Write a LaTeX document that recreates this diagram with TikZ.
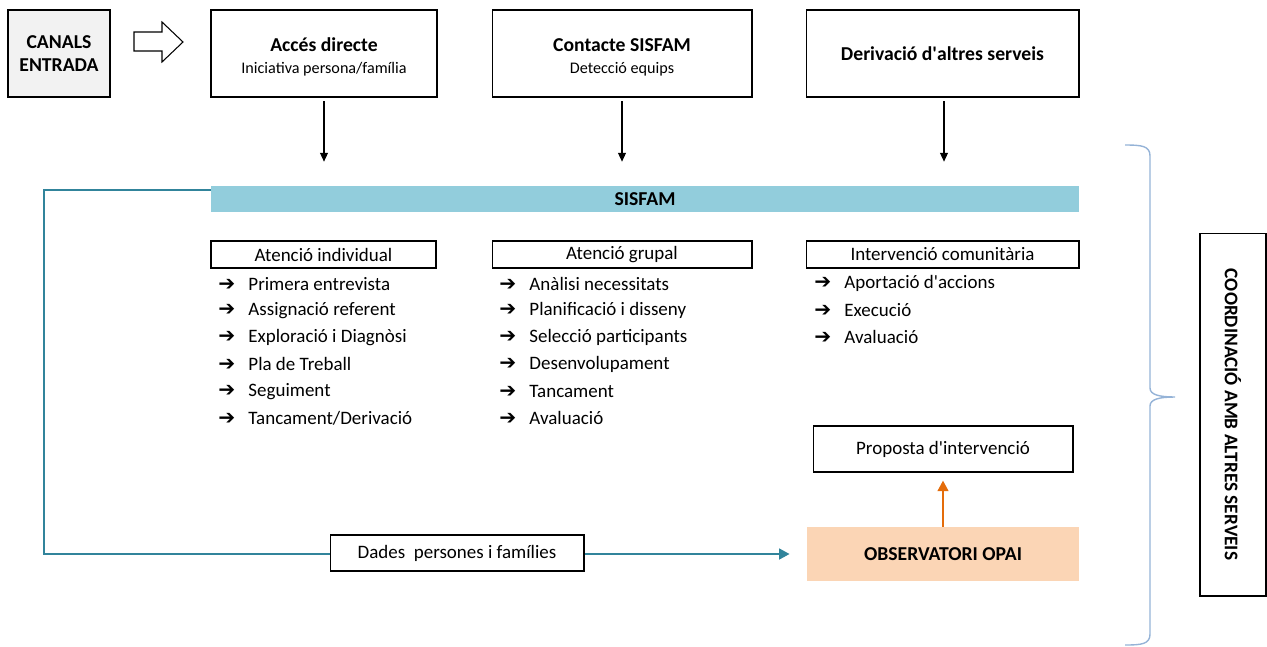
\documentclass[tikz,border=0pt]{standalone}
\usepackage{fontspec}
\setmainfont{Carlito}
\newfontfamily\symfont{DejaVu Sans}
\usetikzlibrary{arrows.meta, positioning, shapes.arrows}
\definecolor{sisblue}{RGB}{146, 205, 220}
\definecolor{tealline}{RGB}{49, 132, 155}
\definecolor{opaipeach}{RGB}{251, 213, 181}
\definecolor{opaiorange}{RGB}{228, 108, 10}
\definecolor{bracecol}{RGB}{149, 179, 215}
\definecolor{canalgray}{RGB}{242, 242, 242}
\newcommand{\boldtxt}{\bfseries\fontsize{11.2}{13.5}\selectfont}
\newcommand{\plaintxt}{\fontsize{10.8}{13}\selectfont}
\newcommand{\subtxt}{\fontsize{9.2}{11}\selectfont}
\newcommand{\q}{\textquotesingle}
\tikzset{
    channel/.style = {draw, line width=0.6pt, minimum height=1.74cm, align=center, font=\plaintxt},
    greybox/.style = {channel, fill=canalgray, minimum width=2.04cm, font=\boldtxt},
    header/.style = {draw, line width=0.6pt, minimum height=0.54cm, inner sep=0pt, font=\plaintxt},
    item/.style = {anchor=west, inner sep=0pt, font=\plaintxt,
        execute at begin node={{\symfont\bfseries\fontsize{11.5}{12}\selectfont ➔}\hspace{7.5pt}}},
    flow/.style = {-{Triangle[length=5pt, width=4.5pt]}, line width=0.6pt},
    dataline/.style = {-{Triangle[length=6pt, width=6pt]}, tealline, line width=1.5pt},
    upline/.style = {-{Triangle[length=6pt, width=6pt]}, opaiorange, line width=1.3pt}
}

\begin{document}
\begin{tikzpicture}[x=0.02cm, y=-0.02cm]
  \useasboundingbox (0,0) rectangle (1267,646);

  % canals d'entrada
  \node[greybox] (canals) at (59,53.5) {CANALS\\ENTRADA};
  \draw[line width=0.6pt] (134,32) -- (162,32) -- (162,22) -- (183,42) -- (162,62) -- (162,51) -- (134,51) -- cycle;
  \node[channel, minimum width=4.52cm] (acces) at (324,53.5)
       {\rule{0pt}{12pt}{\boldtxt Accés directe}\\[-0.7pt]{\subtxt Iniciativa persona/família}};
  \node[channel, minimum width=5.2cm] (contacte) at (622,53.5)
       {\rule{0pt}{12pt}{\boldtxt Contacte SISFAM}\\[-0.7pt]{\subtxt Detecció equips}};
  \node[channel, minimum width=5.46cm, font=\boldtxt] (derivacio) at (942.5,53.5)
       {Derivació d\q altres serveis};

  % SISFAM
  \node[fill=sisblue, minimum width=17.36cm, minimum height=0.52cm, inner sep=0pt,
        font=\boldtxt] (sisfam) at (645,199) {SISFAM};

  \draw[flow, shorten <=2pt, shorten >=0.48cm] (acces) -- (acces |- sisfam.north);
  \draw[flow, shorten <=2pt, shorten >=0.48cm] (contacte) -- (contacte |- sisfam.north);
  \draw[flow, shorten <=2pt, shorten >=0.48cm] ([xshift=0.03cm]derivacio.south) -- ([xshift=0.03cm]derivacio.south |- sisfam.north);

  % tipus d'atencio
  \node[header, minimum width=4.5cm] (indiv) at (323.5,254.5) {Atenció individual};
  \node[header, minimum width=5.2cm] (grupal) at (622,254.5) {Atenció grupal};
  \node[header, minimum width=5.46cm] (comun) at (942.5,254.5) {Intervenció comunitària};

  \foreach \txt [count=\i] in {Primera entrevista, Assignació referent, Exploració i Diagnòsi,
      Pla de Treball, Seguiment, Tancament/Derivació}
    \node[item] (ind\i) at (218,257.2+26.8*\i) {\txt};
  \foreach \txt [count=\i] in {Anàlisi necessitats, Planificació i disseny, Selecció participants,
      Desenvolupament, Tancament, Avaluació}
    \node[item] (grp\i) at (499,257.2+26.8*\i) {\txt};
  \foreach \txt [count=\i] in {Aportació d\q accions, Execució, Avaluació}
    \node[item] (com\i) at (814,256.5+26.8*\i) {\txt};

  % observatori
  \node[draw, line width=0.6pt, minimum width=5.2cm, minimum height=0.92cm,
        font=\plaintxt] (proposta) at (943,449) {Proposta d\q intervenció};
  \node[fill=opaipeach, minimum width=5.44cm, minimum height=1.08cm,
        font=\boldtxt] (opai) at (943,554) {OBSERVATORI OPAI};
  \draw[upline, shorten >=0.16cm] (opai.north) -- (proposta.south);

  % dades cap a l'observatori
  \coordinate (tl) at (44,190);
  \coordinate (bl) at (44,554);
  \draw[dataline, shorten >=0.34cm] (sisfam.west |- tl) -- (tl) -- (bl) -- (opai.west);
  \node[draw, fill=white, line width=0.6pt, minimum width=5.08cm, minimum height=0.72cm,
        font=\plaintxt] (dades) at (457,553) {Dades\ \ persones i famílies};

  % coordinacio
  \draw[bracecol, line width=0.8pt] (1125,145) .. controls (1142,145) and (1150,146) .. (1150,156)
    -- (1150,388) .. controls (1150,395) and (1160,397) .. (1175,397)
    .. controls (1160,397) and (1150,399) .. (1150,406)
    -- (1150,634) .. controls (1150,644) and (1142,645) .. (1125,645);
  \node[draw, line width=0.6pt, minimum width=7.26cm, minimum height=1.32cm, rotate=-90,
        font=\bfseries\fontsize{11}{13}\selectfont] (coord) at (1233,414.5) {COORDINACIÓ AMB ALTRES SERVEIS};
\end{tikzpicture}
\end{document}
